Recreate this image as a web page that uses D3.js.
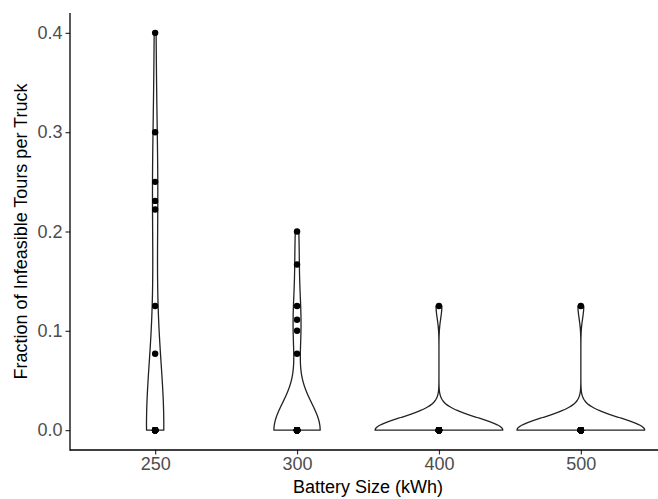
<!DOCTYPE html>
<html>
<head>
<meta charset="utf-8">
<script src="https://cdn.jsdelivr.net/npm/d3@7"></script>
<style>
  body { margin: 0; background: #fff; }
  svg { display: block; font-family: "Liberation Sans", Arial, sans-serif; }
</style>
</head>
<body>
<div id="chart"></div>
<script>
// battery sizes (x categories)
var sizes = ["250", "300", "400", "500"];

// observed fractions per battery size, with how many trucks share each value
var values250 = [0, 0.0769, 0.125, 0.2222, 0.2308, 0.25, 0.3, 0.4];
var counts250 = [12, 1, 1, 1, 1, 1, 1, 1];
var values300 = [0, 0.0769, 0.1, 0.1111, 0.125, 0.1667, 0.2];
var counts300 = [20, 1, 1, 1, 1, 1, 1];
var values400 = [0, 0.125];
var counts400 = [22, 1];
var values500 = [0, 0.125];
var counts500 = [22, 1];

var yTicks = [0, 0.1, 0.2, 0.3, 0.4];

function expand(vals, counts) {
  var out = [];
  vals.forEach(function(v, i) { for (var k = 0; k < counts[i]; k++) out.push(v); });
  return out;
}

var groups = [
  {size: sizes[0], data: expand(values250, counts250)},
  {size: sizes[1], data: expand(values300, counts300)},
  {size: sizes[2], data: expand(values400, counts400)},
  {size: sizes[3], data: expand(values500, counts500)}
];

// R's bw.nrd0
function nrd0(x) {
  var s = x.slice().sort(d3.ascending);
  var hi = d3.deviation(s);
  var iqr = d3.quantileSorted(s, 0.75) - d3.quantileSorted(s, 0.25);
  var lo = Math.min(hi, iqr / 1.34);
  if (!lo) lo = hi || Math.abs(s[0]) || 1;
  return 0.9 * lo * Math.pow(s.length, -0.2);
}

// gaussian kde, trimmed to the data range (like geom_violin trim = TRUE)
function kde(x) {
  var h = nrd0(x), n = x.length;
  var lo = d3.min(x), hi = d3.max(x);
  var pts = [];
  for (var i = 0; i < 512; i++) {
    var y = lo + (hi - lo) * i / 511;
    var s = 0;
    x.forEach(function(v) { var u = (y - v) / h; s += Math.exp(-0.5 * u * u); });
    pts.push({y: y, d: s / (n * h * Math.sqrt(2 * Math.PI))});
  }
  return pts;
}

groups.forEach(function(g) { g.dens = kde(g.data); });
var maxDens = d3.max(groups, function(g) { return d3.max(g.dens, function(p) { return p.d; }); });

var width = 658, height = 499;
var margin = {left: 70, right: -8, top: 13, bottom: 49};

var svg = d3.select("#chart").append("svg")
    .attr("width", width)
    .attr("height", height);

var allVals = values250.concat(values300, values400, values500);
var yMin = d3.min(allVals), yMax = d3.max(allVals), pad = (yMax - yMin) * 0.05;

var x = d3.scalePoint()
    .domain(sizes)
    .range([margin.left, width - margin.right])
    .padding(0.6);

var y = d3.scaleLinear()
    .domain([yMin - pad, yMax + pad])
    .range([height - margin.bottom, margin.top]);

var halfW = d3.scaleLinear()
    .domain([0, maxDens])
    .range([0, x.step() * 0.45]);

// violins
groups.forEach(function(g) {
  var cx = x(g.size);
  var left = g.dens.map(function(p) { return [cx - halfW(p.d), y(p.y)]; });
  var right = g.dens.slice().reverse().map(function(p) { return [cx + halfW(p.d), y(p.y)]; });
  svg.append("path")
      .attr("d", d3.line()(left.concat(right)) + "Z")
      .attr("fill", "#fff")
      .attr("stroke", "#222")
      .attr("stroke-width", 1.3)
      .attr("stroke-linejoin", "round");
});

// points
groups.forEach(function(g) {
  svg.selectAll(null)
      .data(g.data)
      .enter().append("circle")
      .attr("cx", x(g.size))
      .attr("cy", function(d) { return y(d); })
      .attr("r", 3.2)
      .attr("fill", "#000");
});

// axes
var xAxis = svg.append("g")
    .attr("transform", "translate(0," + y.range()[0] + ")")
    .call(d3.axisBottom(x).tickSize(4.5).tickPadding(3));

var yAxis = svg.append("g")
    .attr("transform", "translate(" + margin.left + ",0)")
    .call(d3.axisLeft(y).tickValues(yTicks).tickFormat(d3.format(".1f")).tickSize(4.5).tickPadding(3));

[xAxis, yAxis].forEach(function(a) {
  a.select(".domain").remove();
  a.selectAll(".tick line").attr("stroke", "#333").attr("stroke-width", 1.2);
  a.selectAll(".tick text")
      .attr("fill", "#4d4d4d")
      .style("font-size", "18px")
      .style("font-family", "'Liberation Sans', Arial, sans-serif");
});

// axis lines (theme_classic)
svg.append("line")
    .attr("x1", margin.left).attr("x2", width)
    .attr("y1", y.range()[0]).attr("y2", y.range()[0])
    .attr("stroke", "#000").attr("stroke-width", 1.3);
svg.append("line")
    .attr("x1", margin.left).attr("x2", margin.left)
    .attr("y1", y.range()[0] + 0.65).attr("y2", y.range()[1])
    .attr("stroke", "#000").attr("stroke-width", 1.3);

svg.append("text")
    .attr("x", (margin.left + width - margin.right) / 2)
    .attr("y", 493)
    .attr("text-anchor", "middle")
    .style("font-size", "18px")
    .attr("fill", "#000")
    .text("Battery Size (kWh)");

svg.append("text")
    .attr("transform", "translate(27," + ((y.range()[0] + y.range()[1]) / 2) + ") rotate(-90)")
    .attr("text-anchor", "middle")
    .style("font-size", "18px")
    .attr("fill", "#000")
    .text("Fraction of Infeasible Tours per Truck");
</script>
</body>
</html>
